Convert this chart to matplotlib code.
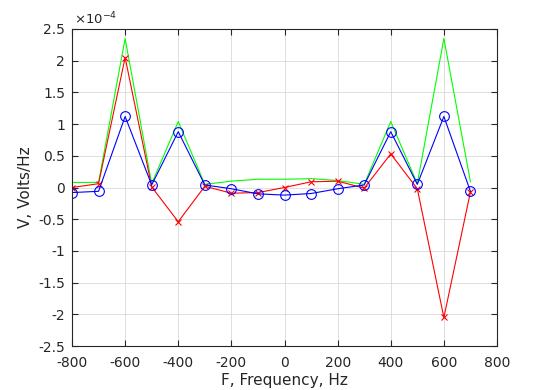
import matplotlib
matplotlib.use('Agg')
import matplotlib.pyplot as plt
from matplotlib.ticker import FuncFormatter

freq = [-800, -700, -600, -500, -400, -300, -200, -100, 0, 100, 200, 300, 400, 500, 600, 700]

# values in units of 1e-4 V/Hz
mag = [0.08, 0.08, 2.35, 0.06, 1.04, 0.05, 0.10, 0.13, 0.13, 0.14, 0.11, 0.05, 1.04, 0.06, 2.35, 0.09]
re_part = [-0.08, -0.06, 1.12, 0.04, 0.88, 0.04, -0.02, -0.10, -0.12, -0.095, -0.02, 0.04, 0.88, 0.05, 1.12, -0.06]
im_part = [0.0, 0.06, 2.05, 0.01, -0.54, 0.02, -0.09, -0.08, 0.0, 0.09, 0.10, -0.01, 0.53, -0.02, -2.05, -0.07]

scale = 1e-4
fig = plt.figure(figsize=(5.5, 3.9), dpi=100)
ax = fig.add_axes([72/550, 1 - 346/390, (497-72)/550, (346-29)/390])

ax.plot(freq, [v*scale for v in mag], color=(0, 1, 0), lw=0.8)
ax.plot(freq, [v*scale for v in im_part], color=(1, 0, 0), lw=0.8, marker='x', ms=5, mew=0.8)
ax.plot(freq, [v*scale for v in re_part], color=(0, 0, 1), lw=0.8, marker='o', ms=7,
        mfc='none', mew=0.8)

ax.set_xlim(-800, 800)
ax.set_ylim(-2.5e-4, 2.5e-4)
ax.set_xticks(range(-800, 801, 200))
ax.set_yticks([v*scale for v in [-2.5, -2, -1.5, -1, -0.5, 0, 0.5, 1, 1.5, 2, 2.5]])
ax.xaxis.set_major_formatter(FuncFormatter(lambda v, p: f'{v:g}'))
ax.yaxis.set_major_formatter(FuncFormatter(lambda v, p: f'{round(v*1e4, 2):g}'))
ax.grid(True, color='#d9d9d9', lw=0.6)
ax.set_axisbelow(True)
ax.tick_params(direction='in', top=True, right=True, labelsize=10, colors='#262626', length=4)
ax.tick_params(axis='x', pad=7)
ax.tick_params(axis='y', pad=5)
for s in ax.spines.values():
    s.set_color('#262626')
    s.set_linewidth(0.8)

ax.set_xlabel('F, Frequency, Hz', fontsize=11, color='#262626', labelpad=2)
ax.set_ylabel('V, Volts/Hz', fontsize=11, color='#262626')
ax.text(0.005, 1.005, r'$\times$10$^{-4}$', transform=ax.transAxes, fontsize=9.5,
        color='#262626', va='bottom', ha='left')

fig.savefig('out.png', dpi=100)
